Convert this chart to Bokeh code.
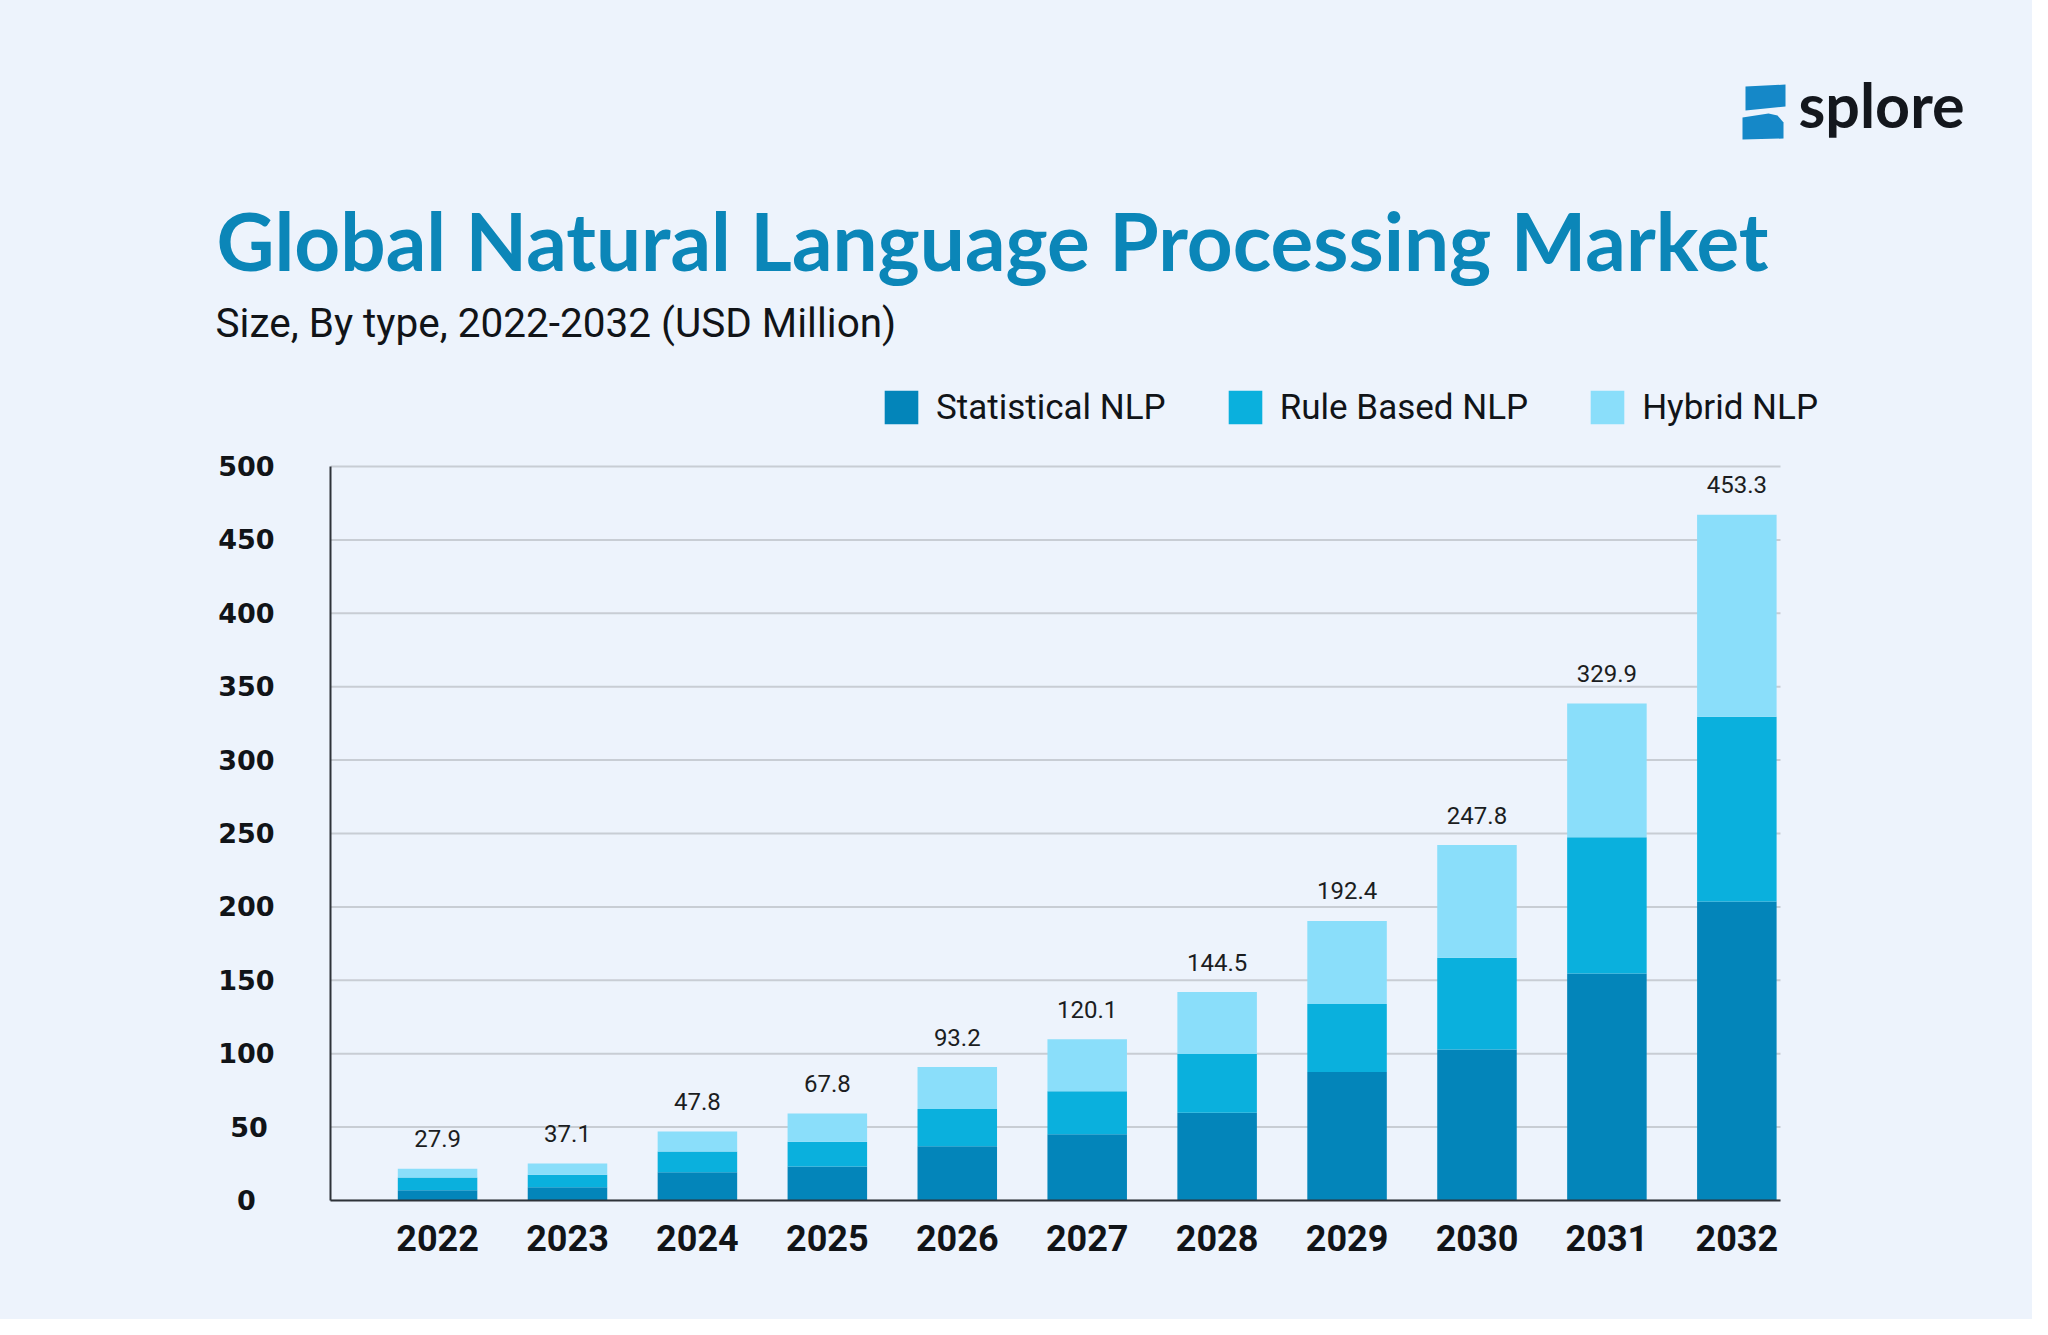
from bokeh.plotting import figure
from bokeh.layouts import column
from bokeh.models import (Range1d, Label, Legend, LegendItem,
                          ColumnDataSource, FixedTicker)
from bokeh.embed import file_html
from bokeh.resources import INLINE
from bokeh.core.properties import value

# ---- data ----
years = [2022, 2023, 2024, 2025, 2026, 2027, 2028, 2029, 2030, 2031, 2032]
statistical = [7.0, 9.1, 19.3, 23.2, 37.0, 45.2, 59.8, 87.5, 102.9, 154.6, 203.6]
rule_based = [8.7, 8.4, 14.1, 16.8, 25.3, 29.3, 40.0, 46.4, 62.5, 92.9, 126.0]
hybrid = [5.9, 7.7, 13.6, 19.3, 28.6, 35.3, 42.2, 56.5, 76.7, 91.1, 137.5]
total_labels = ["27.9", "37.1", "47.8", "67.8", "93.2", "120.1", "144.5",
                "192.4", "247.8", "329.9", "453.3"]
series_names = ["Statistical NLP", "Rule Based NLP", "Hybrid NLP"]
y_ticks = [0, 50, 100, 150, 200, 250, 300, 350, 400, 450, 500]
Y_MAX = 500

TITLE = "Global Natural Language Processing Market"
SUBTITLE = "Size, By type, 2022-2032 (USD Million)"
BRAND = "splore"

BG = "#EDF3FC"
COLORS = ["#0385BA", "#0AB0DD", "#8ADEFA"]
TITLE_COLOR = "#0B86B8"
INK = "#111418"
LOGO = "#1588C8"
GRID = "#C8CDD4"

W = 2032
HEAD_H = 370


def no_frame_align(fig):
    if "frame_align" in fig.properties():
        fig.frame_align = False


# ---------------- header: title, subtitle, logo ----------------
head = figure(width=W, height=HEAD_H, min_border=0,
              x_range=Range1d(0, W), y_range=Range1d(HEAD_H, 0),
              x_axis_type=None, y_axis_type=None,
              output_backend="svg", toolbar_location=None,
              background_fill_color=BG, border_fill_color=BG,
              outline_line_color=None)
head.grid.visible = False
no_frame_align(head)

head.add_layout(Label(x=216, y=239, text=TITLE, text_font="Lato",
                      text_font_size="80px", text_font_style="bold",
                      text_color=TITLE_COLOR, text_baseline="alphabetic"))
head.add_layout(Label(x=215, y=322, text=SUBTITLE, text_font="Roboto",
                      text_font_size="40.5px", text_color=INK,
                      text_baseline="alphabetic"))
head.add_layout(Label(x=1798, y=104, text=BRAND, text_font="Lato",
                      text_font_size="61px", text_font_style="bold",
                      text_color="#14171D", text_baseline="alphabetic"))
head.patches(xs=[[1745, 1785, 1785, 1745],
                 [1742, 1768, 1777, 1783, 1783, 1742]],
             ys=[[86, 84, 106, 110],
                 [117, 113, 115, 122, 138, 139]],
             fill_color=LOGO, line_color=None)

# ---------------- chart ----------------
# the frame runs from page y 380 to 1200 and x 330 to 1850; the value axis (0-500)
# and the year axis use the part 330-1780 / 466-1200, the rest holds the legend
FRAME_W, FRAME_H = 1520, 820
PLOT_W, PLOT_H = 1450, 734
X0, X1 = 2021.176, 2032.336
x_end = X0 + (X1 - X0) * FRAME_W / PLOT_W
y_end = Y_MAX * FRAME_H / PLOT_H

totals = [s + r + h for s, r, h in zip(statistical, rule_based, hybrid)]
source = ColumnDataSource(dict(year=years, statistical=statistical, rule=rule_based,
                               hybrid=hybrid, total=totals, label=total_labels))

p = figure(frame_width=FRAME_W, frame_height=FRAME_H,
           min_border_left=330, min_border_right=W - 330 - FRAME_W,
           min_border_top=10, min_border_bottom=119,
           x_range=Range1d(X0, x_end), y_range=Range1d(0, y_end),
           output_backend="svg", toolbar_location=None,
           background_fill_color=BG, border_fill_color=BG,
           outline_line_color=None)
no_frame_align(p)

# horizontal grid lines, limited to the plotting area
p.segment(x0=[X0] * len(y_ticks), x1=[X1] * len(y_ticks), y0=y_ticks, y1=y_ticks,
          line_color=GRID, line_width=2)

rs = p.vbar_stack(["statistical", "rule", "hybrid"], x="year", width=0.612,
                  fill_color=COLORS, line_color=None, source=source)

p.text(x="year", y="total", text="label", source=source,
       text_align="center", text_baseline="middle", y_offset=-30,
       text_font=value("Roboto"), text_font_size="24px", text_color="#1b1d21")

p.xaxis.ticker = FixedTicker(ticks=years)
p.xaxis.bounds = (X0, X1)
p.xaxis.major_label_text_font = "Roboto"
p.xaxis.major_label_text_font_size = "36px"
p.xaxis.major_label_text_font_style = "bold"
p.xaxis.major_label_text_color = INK
p.xaxis.major_label_standoff = 18
p.xaxis.axis_line_color = "#2E3238"
p.xaxis.axis_line_width = 2
p.xaxis.major_tick_line_color = None
p.xaxis.minor_tick_line_color = None

# centre the short y tick labels on the column of the long ones
p.yaxis.ticker = FixedTicker(ticks=y_ticks)
p.yaxis.bounds = (0, Y_MAX)
p.yaxis.major_label_overrides = {0: "0\u2007", 50: "50\u2005"}
p.yaxis.major_label_text_font = "DejaVu Sans"
p.yaxis.major_label_text_font_size = "27px"
p.yaxis.major_label_text_font_style = "bold"
p.yaxis.major_label_text_color = INK
p.yaxis.major_label_standoff = 50
p.yaxis.axis_line_color = "#2E3238"
p.yaxis.axis_line_width = 2
p.yaxis.major_tick_line_color = None
p.yaxis.minor_tick_line_color = None

p.xgrid.grid_line_color = None
p.ygrid.grid_line_color = None

legend = Legend(items=[LegendItem(label=n, renderers=[r]) for n, r in zip(series_names, rs)],
                orientation="horizontal", location=(550, 772),
                glyph_width=42, glyph_height=42, label_standoff=14, spacing=58,
                padding=0, margin=0, label_text_font="Roboto",
                label_text_font_size="35px", label_text_color=INK,
                background_fill_alpha=0, border_line_color=None)
p.add_layout(legend)

page = column(head, p, spacing=0, styles={"background-color": BG})
open("out.html", "w").write(file_html(page, INLINE))
